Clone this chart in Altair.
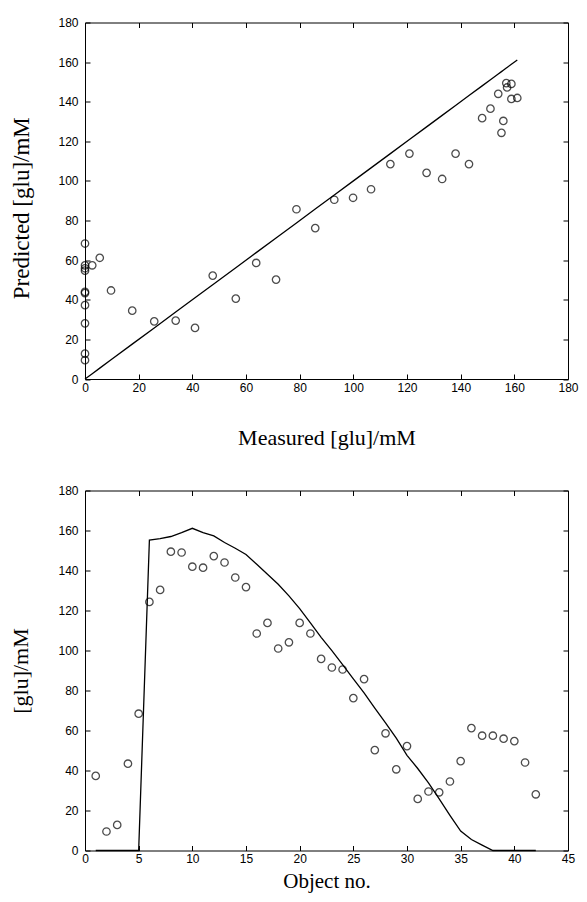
import altair as alt
import pandas as pd

# ---- data ----
object_no = list(range(1, 43))
measured = [0, 0, 0, 0, 0,
            155.2, 155.9, 157.0, 158.9, 161.1,
            158.9, 157.3, 154.0, 151.1, 148.0,
            143.1, 138.1, 133.1, 127.3, 120.9,
            113.8, 106.6, 99.9, 92.9, 85.8,
            78.8, 71.2, 63.8, 56.2, 47.6,
            41.0, 33.8, 25.8, 17.6, 9.7,
            5.5, 2.7, 0, 0, 0, 0, 0]
predicted = [37.3, 9.5, 12.8, 43.4, 68.4,
             124.3, 130.3, 149.4, 149.0, 141.9,
             141.4, 147.2, 144.0, 136.5, 131.7,
             108.5, 113.8, 101.0, 104.1, 113.8,
             108.5, 95.8, 91.5, 90.5, 76.2,
             85.7, 50.2, 58.6, 40.6, 52.2,
             25.8, 29.5, 29.1, 34.5, 44.7,
             61.2, 57.4, 57.4, 55.9, 54.7,
             44.0, 28.1]

conc_ticks = [0, 20, 40, 60, 80, 100, 120, 140, 160, 180]
obj_ticks = [0, 5, 10, 15, 20, 25, 30, 35, 40, 45]

df = pd.DataFrame({"obj": object_no, "measured": measured, "predicted": predicted})
ideal = pd.DataFrame({"m": sorted(measured)})

LABEL_FONT = "Liberation Sans"
TITLE_FONT = "Liberation Serif"

TOP_W, TOP_H = 483, 356.5
BOT_W, BOT_H = 483, 360


def main_axis(orient, values, title, title_pad, label_pad, title_size, **kw):
    return alt.Axis(orient=orient, values=values, title=title, offset=-5,
                    tickSize=5, tickColor="black", tickWidth=1,
                    domain=False, grid=False, labelFlush=False, labelOverlap=False,
                    labelPadding=label_pad, labelFont=LABEL_FONT, labelFontSize=12,
                    labelColor="black", titleFont=TITLE_FONT, titleFontSize=title_size,
                    titleFontWeight="normal", titleColor="black", titlePadding=title_pad,
                    **kw)


def mirror_axis(orient, values):
    return alt.Axis(orient=orient, values=values, title=None, labels=False, offset=-5,
                    tickSize=5, tickColor="black", tickWidth=1, domain=False, grid=False)


def sc(lo, hi):
    return alt.Scale(domain=[lo, hi], nice=False, zero=False)


# ---- top: predicted vs measured ----
top_pts = alt.Chart(df).mark_point(shape="circle", filled=False, size=55,
                                   strokeWidth=1.3, color="black").encode(
    x=alt.X("measured:Q", scale=sc(0, 180),
            axis=main_axis("bottom", conc_ticks, "Measured [glu]/mM", 34, 3, 22)),
    y=alt.Y("predicted:Q", scale=sc(0, 180),
            axis=main_axis("left", conc_ticks, "Predicted [glu]/mM", 24, 7, 23,
                           titleY=TOP_H / 2 + 7)),
)
top_line = alt.Chart(ideal).mark_line(color="black", strokeWidth=1.3).encode(
    x=alt.X("m:Q", scale=sc(0, 180), axis=mirror_axis("top", conc_ticks)),
    y=alt.Y("m:Q", scale=sc(0, 180), axis=mirror_axis("right", conc_ticks)),
)
top = alt.layer(top_pts, top_line).resolve_scale(x="independent", y="independent").properties(
    width=TOP_W, height=TOP_H)

# ---- bottom: by object ----
bot_pts = alt.Chart(df).mark_point(shape="circle", filled=False, size=55,
                                   strokeWidth=1.3, color="black").encode(
    x=alt.X("obj:Q", scale=sc(0, 45),
            axis=main_axis("bottom", obj_ticks, "Object no.", 6, 3, 21)),
    y=alt.Y("predicted:Q", scale=sc(0, 180),
            axis=main_axis("left", conc_ticks, "[glu]/mM", 25, 7, 22)),
)
bot_line = alt.Chart(df).mark_line(color="black", strokeWidth=1.3).encode(
    x=alt.X("obj:Q", scale=sc(0, 45), axis=mirror_axis("top", obj_ticks)),
    y=alt.Y("measured:Q", scale=sc(0, 180), axis=mirror_axis("right", conc_ticks)),
)
bottom = alt.layer(bot_pts, bot_line).resolve_scale(x="independent", y="independent").properties(
    width=BOT_W, height=BOT_H)

chart = alt.vconcat(top, bottom, spacing=35).configure_view(
    stroke="black", strokeWidth=1).properties(
    padding={"left": 1, "top": 7.5, "right": 0, "bottom": 0}, background="white")

chart.save("out.html", embed_options={"renderer": "svg", "actions": False})
